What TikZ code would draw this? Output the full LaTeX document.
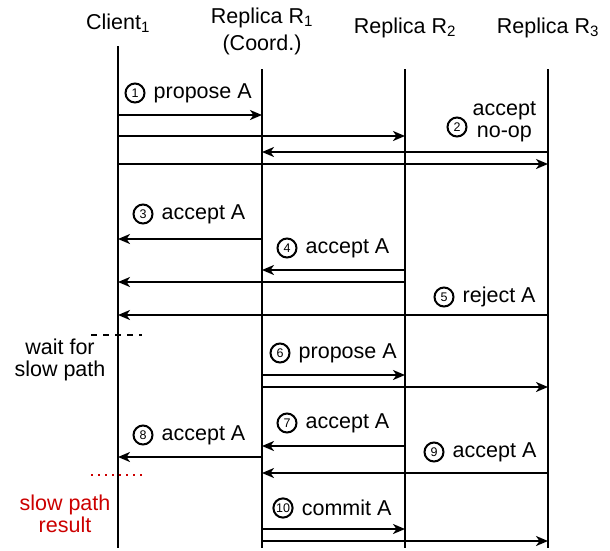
\documentclass[tikz,border=0pt]{standalone}
\usepackage{fontspec}
\setmainfont{Liberation Sans}
\usetikzlibrary{arrows.meta,positioning}
\definecolor{slowred}{RGB}{204,0,0}
\tikzset{
  life/.style={line width=2pt},
  msg/.style={line width=2pt,-{Stealth[length=12pt,width=10pt,inset=3.5pt]}},
  num/.style={circle,draw,line width=2pt,inner sep=1pt,minimum size=19pt,font=\fontsize{12.5}{12.5}\selectfont},
  txt/.style={inner sep=0pt,font=\fontsize{21.5}{22}\selectfont},
  head/.style={align=center,font=\fontsize{21.5}{27}\selectfont}
}
\begin{document}
\begin{tikzpicture}[x=1pt,y=-1pt]
    \useasboundingbox (0,0) rectangle (610,550);
    \node[head] (cl) at (118,23) {Client\textsubscript{1}};
    \node[head] (r1) at (262,31.5) {Replica R\textsubscript{1}\\(Coord.)};
    \node[head] (r2) at (405,28) {Replica R\textsubscript{2}};
    \node[head] (r3) at (548,28) {Replica R\textsubscript{3}};
    \draw[life] (cl |- 0,46) -- (cl |- 0,548);
    \foreach \r in {r1, r2, r3}
        {\draw[life] (\r |- 0,69) -- (\r |- 0,548);};
    \foreach \a/\b/\y in {cl/r1/115, cl/r2/136, r3/r1/152, cl/r3/164,
                          r1/cl/239, r2/r1/270, r2/cl/282, r3/cl/315,
                          r1/r2/375, r1/r3/387, r2/r1/446, r1/cl/457,
                          r3/r1/473, r1/r2/529, r1/r3/541}
        {\draw[msg] (\a |- 0,\y) -- (\b |- 0,\y);};
    \foreach \n/\x/\y/\t in {1/135/93/propose A, 3/143/214/accept A, 4/287/248/accept A,
                             5/444/297/reject A, 6/280/353/propose A, 7/287/423/accept A,
                             8/143/435/accept A, 9/434/452/accept A, 10/283/508/commit A}
        {\node[num] (n\n) at (\x,\y) {\n};
         \node[txt, right=8pt of n\n] (t\n) {\t};};
    \node[num] (n2) at (457,127) {2};
    \node[txt, align=center, font=\fontsize{21.5}{22}\selectfont, right=5pt of n2, yshift=5pt] (t2) {accept\\no-op};
    \draw[line width=1.8pt, dash pattern=on 6pt off 6pt] (91,335) -- (142,335);
    \node[txt, align=center] (wait) at (60,360) {wait for\\slow path};
    \draw[slowred, line width=1.8pt, dash pattern=on 1.8pt off 5.2pt] (91,475) -- (145,475);
    \node[txt, align=center, text=slowred] (res) at (65,514) {slow path\\result};
\end{tikzpicture}
\end{document}
